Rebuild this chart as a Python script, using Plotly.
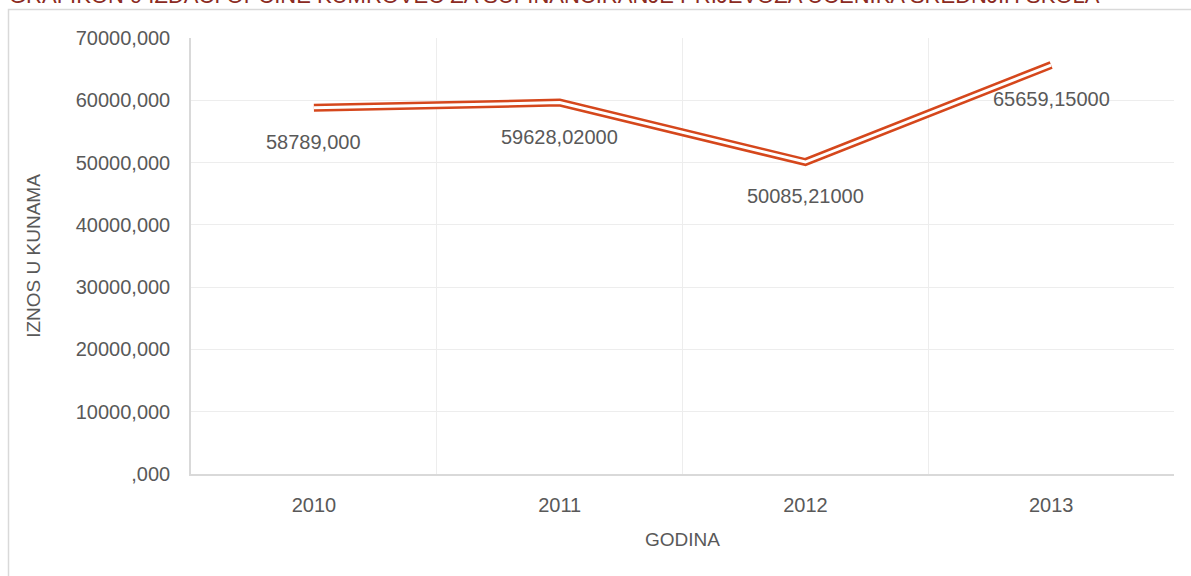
import plotly.graph_objects as go

years = ["2010", "2011", "2012", "2013"]
values = [58789.0, 59628.02, 50085.21, 65659.15]
value_labels = ["58789,000", "59628,02000", "50085,21000", "65659,15000"]
y_tickvals = [0, 10000, 20000, 30000, 40000, 50000, 60000, 70000]
y_ticktext = [",000", "10000,000", "20000,000", "30000,000", "40000,000",
              "50000,000", "60000,000", "70000,000"]
title_text = "GRAFIKON 9 IZDACI OPĆINE KUMROVEC ZA SUFINANCIRANJE PRIJEVOZA UČENIKA SREDNJIH ŠKOLA"

FONT = "Liberation Sans, Arial, sans-serif"
TXT = "#595959"
LINE = "#D5471C"

fig = go.Figure()
fig.add_trace(go.Scatter(x=years, y=values, mode="lines",
                         line=dict(color=LINE, width=8), hoverinfo="skip"))
fig.add_trace(go.Scatter(x=years, y=values, mode="lines",
                         line=dict(color="white", width=3), hoverinfo="skip"))

for i, (v, lab) in enumerate(zip(values, value_labels)):
    fig.add_annotation(x=i, y=v, text=lab, showarrow=False, yshift=-34,
                       font=dict(family=FONT, size=20, color=TXT))

# body margin removed via post_script, so figure starts at page (0,0)
L, R, T, B = 191, 17, 38, 102
pw = 1191 - L - R
ph = 576 - T - B

def px_x(x):
    return (x - L) / pw

def px_y(y):
    return (576 - B - y) / ph

# title (partly cut at top, as in the reference)
fig.add_annotation(xref="paper", yref="paper", x=px_x(7), y=px_y(-5),
                   xanchor="left", yanchor="middle", text=title_text,
                   showarrow=False, font=dict(family=FONT, size=22, color="#8B2A22"))

# outer chart border
fig.add_shape(type="rect", xref="paper", yref="paper",
              x0=px_x(8.5), x1=px_x(1210), y0=px_y(600), y1=px_y(9.5),
              line=dict(color="#D9D9D9", width=1.5), layer="below")

fig.update_layout(
    width=1191, height=576,
    margin=dict(l=L, r=R, t=T, b=B),
    paper_bgcolor="white", plot_bgcolor="white",
    showlegend=False,
    font=dict(family=FONT, size=20, color=TXT),
    xaxis=dict(type="category", tickson="boundaries", showgrid=True,
               gridcolor="#EDEDED", gridwidth=1, ticks="",
               showline=True, linecolor="#D9D9D9", linewidth=1.5,
               ticklabelstandoff=12, range=[-0.5, 3.5],
               title=dict(text="GODINA", standoff=18,
                          font=dict(family=FONT, size=19, color=TXT)),
               tickfont=dict(family=FONT, size=20, color=TXT), zeroline=False),
    yaxis=dict(range=[0, 70000], tickvals=y_tickvals, ticktext=y_ticktext,
               showgrid=True, gridcolor="#EDEDED", gridwidth=1, ticks="",
               showline=True, linecolor="#D9D9D9", linewidth=1.5,
               ticklabelstandoff=15, zeroline=False,
               title=dict(text="IZNOS U KUNAMA", standoff=30,
                          font=dict(family=FONT, size=19, color=TXT)),
               tickfont=dict(family=FONT, size=20, color=TXT)),
)

fig.write_html("out.html", config={"displayModeBar": False},
               post_script="document.body.style.margin='0';document.body.style.padding='0';")
